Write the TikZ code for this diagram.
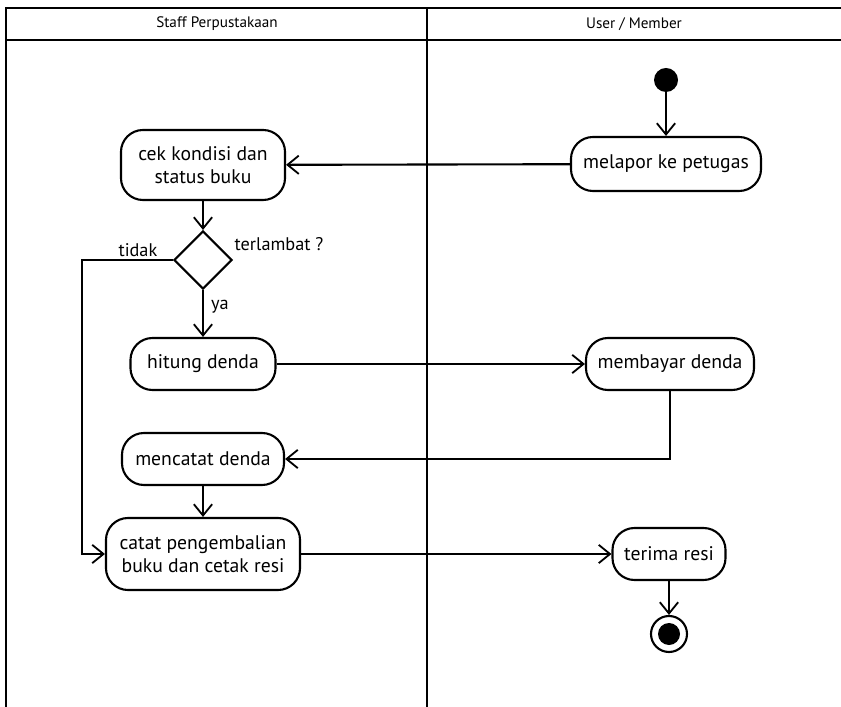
\documentclass[tikz,border=0pt]{standalone}
\usepackage{fontspec}
\setmainfont{PT Sans}
\usetikzlibrary{shapes.geometric,arrows.meta}

\tikzset{
	activity/.style={draw, line width=1.5pt, rounded corners=0.55cm, align=center, minimum height=1.3cm, inner sep=3pt, font=\fontsize{14}{16.5}\selectfont},
	decision/.style={draw, diamond, line width=1.5pt, minimum width=1.45cm, minimum height=1.45cm, inner sep=0pt},
	flow/.style={line width=1.5pt, -{Straight Barb[length=8pt,width=13pt,line width=1.3pt]}},
	lane/.style={line width=1.6pt},
	note/.style={font=\fontsize{13}{15}\selectfont, inner sep=1pt},
	lanetitle/.style={font=\fontsize{10.8}{13}\selectfont, inner sep=1pt}
}

\begin{document}
\begin{tikzpicture}[x=0.025cm, y=-0.025cm]
			\useasboundingbox (0,0) rectangle (841,707);
			% swimlanes
			\draw[lane] (6,707) -- (6,8) -- (841,8);
			\draw[lane] (6,40) -- (841,40);
			\draw[lane] (427,8) -- (427,707);
			\node[lanetitle] (L_staff) at (217,24) {Staff Perpustakaan};
			\node[lanetitle] (L_user) at (634,24) {User / Member};
			% nodes
			\node[circle, fill, minimum size=0.6cm, inner sep=0pt] (start) at (666,80) {};
			\node[activity, minimum width=4.75cm, minimum height=1.35cm] (melapor) at (666,164) {melapor ke petugas};
			\node[activity, minimum width=4.1cm, minimum height=1.75cm] (cek) at (203,165) {cek kondisi dan\\status buku};
			\node[decision] (terlambat) at (203,260) {};
			\node[activity, minimum width=3.625cm] (hitung) at (203,364) {hitung denda};
			\node[activity, minimum width=4.2cm] (membayar) at (670,364) {membayar denda};
			\node[activity, minimum width=4.05cm] (mencatat) at (203,459) {mencatat denda};
			\node[activity, minimum width=4.85cm, minimum height=1.8cm] (catat) at (203,554) {catat pengembalian\\buku dan cetak resi};
			\node[activity, minimum width=2.825cm] (terima) at (669,554) {terima resi};
			\node[circle, draw, line width=1.5pt, minimum size=0.9cm, inner sep=0pt] (end) at (669,634) {};
			\node[circle, fill, minimum size=0.55cm, inner sep=0pt] at (end) {};
			\coordinate (tidak_corner) at (82,260);
			% labels
			\node[note, anchor=south east] (tidak) at (159,258) {tidak};
			\node[note, anchor=west] (q) at (233,244) {terlambat ?};
			% flows
			\draw[flow] (start) -- (melapor);
			\draw[flow] (melapor) -- (cek);
			\draw[flow] (cek) -- (terlambat);
			\draw[flow] (terlambat) -- node[note, right, pos=0.35, xshift=4pt] {ya} (hitung);
			\draw[flow] (terlambat.west) -- (tidak_corner) |- (catat.west);
			\draw[flow] (hitung) -- (membayar);
			\draw[flow] (membayar.south) |- (mencatat.east);
			\draw[flow] (mencatat) -- (catat);
			\draw[flow] (catat) -- (terima);
			\draw[flow] (terima) -- (end);
		\end{tikzpicture}
\end{document}
